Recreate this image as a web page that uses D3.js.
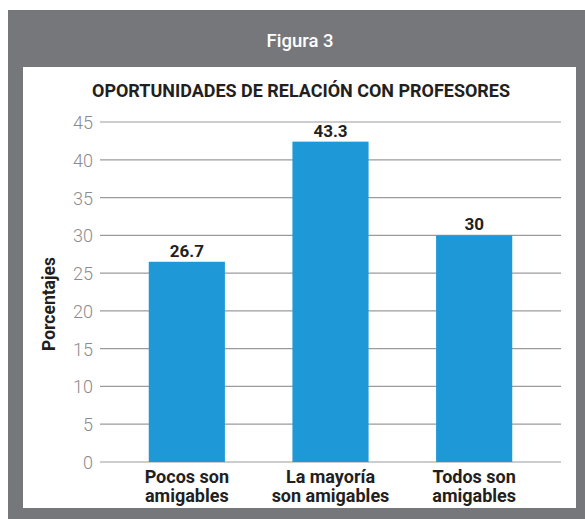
<!DOCTYPE html>
<html><head><meta charset="utf-8">
<script src="https://cdn.jsdelivr.net/npm/d3@7"></script>
<style>body{margin:0;background:#fff}svg{display:block}</style>
</head><body>
<script>
const categories = [["Pocos son","amigables"],["La mayoría","son amigables"],["Todos son","amigables"]];
// bar heights as drawn in the reference, and the labels printed above them
const barValues = [26.5, 42.4, 30];
const valueLabels = ["26.7","43.3","30"];
const yTicks = [0,5,10,15,20,25,30,35,40,45];
const figLabel = "Figura 3";
const chartTitle = "OPORTUNIDADES DE RELACIÓN CON PROFESORES";
const yTitle = "Porcentajes";

const W = 585, H = 519;
const svg = d3.select("body").append("svg").attr("width", W).attr("height", H);
const font = "Roboto, 'Noto Sans', sans-serif";

svg.append("rect").attr("x",8).attr("y",10).attr("width",W-8).attr("height",H-10).attr("fill","#76777b");
svg.append("rect").attr("x",23).attr("y",67).attr("width",553).attr("height",441).attr("fill","#fff");

svg.append("text").attr("x",300).attr("y",47).attr("text-anchor","middle")
  .attr("font-family",font).attr("font-weight",500).attr("font-size",18.5).attr("fill","#fff").text(figLabel);

svg.append("text").attr("x",301).attr("y",97).attr("text-anchor","middle")
  .attr("font-family",font).attr("font-weight",700).attr("font-size",19).attr("fill","#231f20")
  .attr("textLength",418).attr("lengthAdjust","spacingAndGlyphs").text(chartTitle);

const y = d3.scaleLinear().domain([0,45]).range([462,122]);
const x = d3.scaleBand().domain(d3.range(categories.length)).range([115,546]).paddingInner(0.47).paddingOuter(0.235);

const yAxis = d3.axisLeft(y).tickValues(yTicks).tickSize(0).tickPadding(8);
const gy = svg.append("g").attr("transform","translate(101,0)").call(yAxis);
gy.select(".domain").remove();
gy.selectAll("text").attr("font-family",font).attr("font-weight",300).attr("font-size",18).attr("fill","#8a8b8e").attr("dy","0.36em");

svg.append("g").selectAll("line").data(yTicks).join("line")
  .attr("x1",100).attr("x2",561).attr("y1",d=>y(d)).attr("y2",d=>y(d))
  .attr("stroke","#9a9b9e").attr("stroke-width",1.2);

svg.append("g").selectAll("rect").data(barValues).join("rect")
  .attr("x",(d,i)=>x(i)).attr("width",x.bandwidth())
  .attr("y",d=>y(d)).attr("height",d=>y(0)-y(d)).attr("fill","#1e98d6");

svg.append("g").selectAll("text").data(barValues).join("text")
  .attr("x",(d,i)=>x(i)+x.bandwidth()/2).attr("y",d=>y(d)-5).attr("text-anchor","middle")
  .attr("font-family",font).attr("font-weight",700).attr("font-size",17).attr("fill","#231f20")
  .text((d,i)=>valueLabels[i]);

const cl = svg.append("g").selectAll("text").data(categories).join("text")
  .attr("x",(d,i)=>x(i)+x.bandwidth()/2).attr("y",483).attr("text-anchor","middle")
  .attr("font-family",font).attr("font-weight",700).attr("font-size",18).attr("fill","#231f20");
cl.each(function(d){
  const t = d3.select(this);
  d.forEach((line,j)=>t.append("tspan").attr("x",t.attr("x")).attr("dy",j?19:0).text(line));
});

svg.append("text").attr("transform","translate(55,304) rotate(-90)").attr("text-anchor","middle")
  .attr("font-family",font).attr("font-weight",700).attr("font-size",17.5).attr("fill","#231f20").text(yTitle);
</script>
</body></html>
